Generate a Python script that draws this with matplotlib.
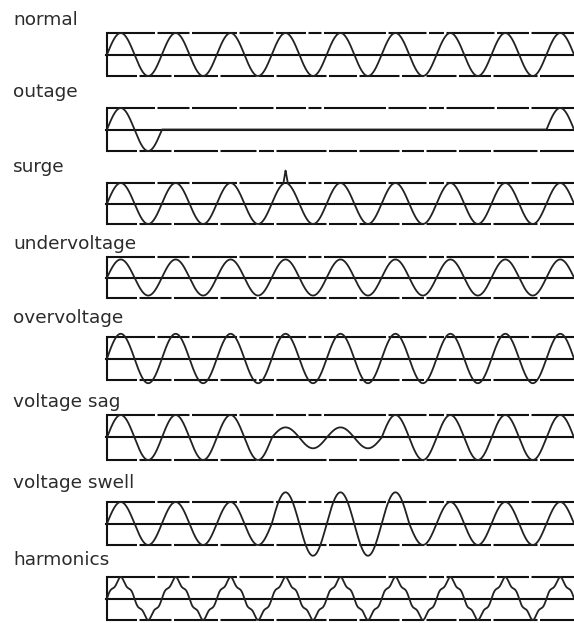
import matplotlib
matplotlib.use("Agg")
import matplotlib.pyplot as plt
import numpy as np

plt.rcParams["lines.scale_dashes"] = False

# panel names, top to bottom
labels = ["normal", "outage", "surge", "undervoltage", "overvoltage",
          "voltage sag", "voltage swell", "harmonics"]

n_cycles = 8.5  # cycles shown in each box
n_half = 17

# amplitude of every half cycle (peak of half cycle i sits at t = i/2 + 1/4)
amp_normal = [1.0] * 17
amp_outage = [1, 1, 0, 0, 0, 0, 0, 0, 0, 0, 0, 0, 0, 0, 0, 0, 1]
amp_surge = [1.0] * 17
amp_under = [0.88] * 17
amp_over = [1.15] * 17
amp_sag = [1, 1, 1, 1, 1, 1, 0.45, 0.48, 0.45, 0.48, 1, 1, 1, 1, 1, 1, 1]
amp_swell = [1, 1, 1, 1, 1, 1, 1.45, 1.5, 1.45, 1.5, 1.45, 1, 1, 1, 1, 1, 1]
amp_harm = [1.0] * 17

# surge spike: position (cycles), extra height, half width (cycles)
spike_t = 3.25
spike_h = 0.62
spike_w = 0.04

# harmonic content of the distorted wave
harm_orders = [1, 3, 5]
harm_coefs = [1.0, -0.05, 0.12]

amps = [amp_normal, amp_outage, amp_surge, amp_under, amp_over,
        amp_sag, amp_swell, amp_harm]

# layout in pixels (from top): label baseline, box top, box bottom
W, H = 574, 623
label_y = [25, 97, 172, 249, 323, 407, 488, 565]
box_top = [33, 108, 183, 257, 337, 415, 502, 577]
box_bot = [76, 151, 224, 298, 380, 460, 545, 620]
box_left = 107

fig = plt.figure(figsize=(W / 100, H / 100), dpi=100)

t = np.linspace(0, n_cycles, 3000)
half = np.minimum((t * 2).astype(int), n_half - 1)

dash_top = (0, [v * 0.72 for v in (48, 2.5, 32, 2.5, 45, 2.5, 34, 2.5, 30, 2.5,
                                   13, 2.5, 62, 2.5, 38, 2.5, 15, 2.5)])
dash_bot = (0, [v * 0.72 for v in (30, 2.5, 32, 2.5, 44, 2.5, 36, 2.5, 15, 2.5,
                                   50, 2.5, 28, 2.5, 40, 2.5, 22, 2.5)])

for i, name in enumerate(labels):
    fig.text(13 / W, 1 - label_y[i] / H, name, fontsize=13.3, color="#2b2b2b",
             va="baseline", ha="left")
    ax = fig.add_axes([box_left / W, 1 - box_bot[i] / H,
                       (W - box_left) / W, (box_bot[i] - box_top[i]) / H])
    ax.set_xlim(0, n_cycles)
    ax.set_ylim(-1, 1)
    ax.axis("off")

    a = np.array(amps[i])[half]
    if name == "harmonics":
        y = sum(c * np.sin(2 * np.pi * k * t) for k, c in zip(harm_orders, harm_coefs))
        y = y / np.abs(y).max()
    else:
        y = np.sin(2 * np.pi * t)
    y = y * a
    if name == "surge":
        y = y + spike_h * np.clip(1 - np.abs(t - spike_t) / spike_w, 0, None)

    ax.plot([0, n_cycles], [1, 1], color="#111111", lw=1.5, linestyle=dash_top,
            clip_on=False)
    ax.plot([0, n_cycles], [-1, -1], color="#111111", lw=1.5, linestyle=dash_bot,
            clip_on=False)
    ax.plot([-0.02, n_cycles], [0, 0], color="#111111", lw=1.5, clip_on=False)
    ax.plot([0, 0], [-1, 1], color="#111111", lw=1.5, clip_on=False)
    ax.plot(t, y, color="#222222", lw=1.3, clip_on=False)

fig.savefig("out.png", dpi=100)
